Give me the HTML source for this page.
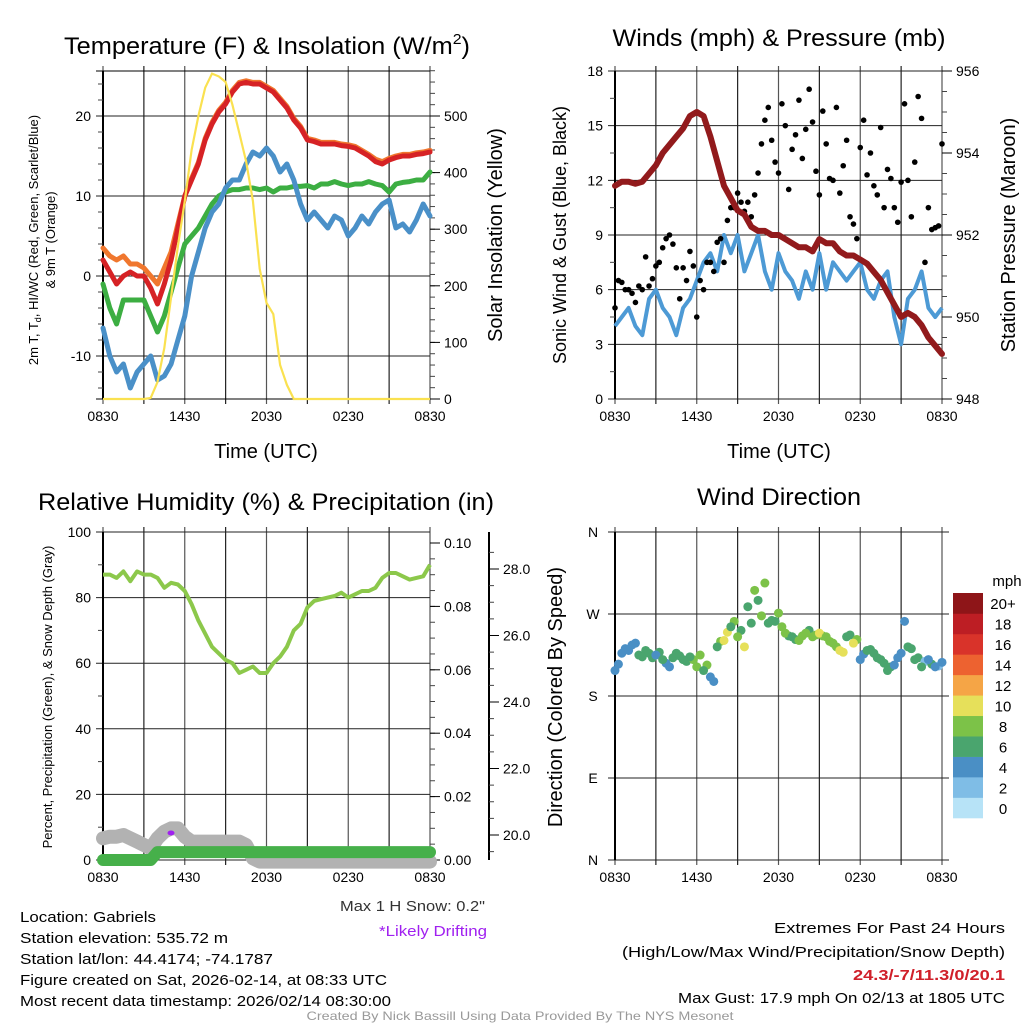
<!DOCTYPE html>
<html><head><meta charset="utf-8">
<style>
html,body{margin:0;padding:0;background:#fff;}
svg{display:block;font-family:"Liberation Sans",sans-serif;}
</style></head>
<body>
<svg id="fig" width="1024" height="1024" viewBox="0 0 1024 1024">
<rect width="1024" height="1024" fill="#fff"/>
<g font-size="24" text-anchor="middle" fill="#000">
<text x="267" y="54" textLength="406" lengthAdjust="spacingAndGlyphs">Temperature (F) &amp; Insolation (W/m<tspan font-size="15" dy="-10">2</tspan><tspan dy="10">)</tspan></text>
<text x="779" y="46" textLength="333" lengthAdjust="spacingAndGlyphs">Winds (mph) &amp; Pressure (mb)</text>
<text x="266" y="510" textLength="456" lengthAdjust="spacingAndGlyphs">Relative Humidity (%) &amp; Precipitation (in)</text>
<text x="779" y="505" textLength="164" lengthAdjust="spacingAndGlyphs">Wind Direction</text>
</g>
<g id="layer"></g>
<g font-size="15" fill="#000">
<text x="20" y="922" textLength="136" lengthAdjust="spacingAndGlyphs">Location: Gabriels</text>
<text x="20" y="943" textLength="208" lengthAdjust="spacingAndGlyphs">Station elevation: 535.72 m</text>
<text x="20" y="964" textLength="253" lengthAdjust="spacingAndGlyphs">Station lat/lon: 44.4174; -74.1787</text>
<text x="20" y="985" textLength="367" lengthAdjust="spacingAndGlyphs">Figure created on Sat, 2026-02-14, at 08:33 UTC</text>
<text x="20" y="1006" textLength="371" lengthAdjust="spacingAndGlyphs">Most recent data timestamp: 2026/02/14 08:30:00</text>
<text x="485" y="911" text-anchor="end" fill="#333" textLength="145" lengthAdjust="spacingAndGlyphs">Max 1 H Snow: 0.2"</text>
<text x="487" y="936" text-anchor="end" fill="#a020f0" textLength="108" lengthAdjust="spacingAndGlyphs">*Likely Drifting</text>
<text x="1005" y="933" text-anchor="end" textLength="231" lengthAdjust="spacingAndGlyphs">Extremes For Past 24 Hours</text>
<text x="1005" y="957" text-anchor="end" textLength="383" lengthAdjust="spacingAndGlyphs">(High/Low/Max Wind/Precipitation/Snow Depth)</text>
<text x="1005" y="980" text-anchor="end" fill="#d0202a" font-weight="bold" textLength="152" lengthAdjust="spacingAndGlyphs">24.3/-7/11.3/0/20.1</text>
<text x="1005" y="1003" text-anchor="end" textLength="327" lengthAdjust="spacingAndGlyphs">Max Gust: 17.9 mph On 02/13 at 1805 UTC</text>
<text x="520" y="1020" text-anchor="middle" fill="#999" font-size="12" textLength="427" lengthAdjust="spacingAndGlyphs">Created By Nick Bassill Using Data Provided By The NYS Mesonet</text>
</g>
</svg>
<script>
// ---------- data (half-hourly from 0830 UTC) ----------
const timeLabels = ["0830","1430","2030","0230","0830"];
const tempRed = [2,0.5,-1,0,0.5,0,0,-1.5,-3.5,-1,2,6,10,12,14,17,19,20.5,21.5,23,24,24.2,24,24,23.5,23,22,21,19.5,18.5,17,16.8,16.5,16.5,16.5,16.3,16.2,16,15.5,15,14.3,14,14.5,14.8,15,15,15.2,15.3,15.5];
const tempOrange = [3.5,2.5,2,2.5,1.5,1.5,1,0,-1,1,3,6.5,10,12.2,14.2,17.2,19.2,20.7,21.7,23.2,24.2,24.4,24.2,24.2,23.7,23.2,22.2,21.2,19.7,18.7,17.2,17,16.7,16.7,16.7,16.5,16.4,16.2,15.7,15.2,14.6,14.3,14.7,15,15.2,15.2,15.4,15.5,15.7];
const tempGreen = [-1,-4,-6,-3,-3,-3,-3,-5,-7,-5,-2,1,4,5,6,7.5,9,10,10.5,10.8,10.8,11,11,10.8,11,10.5,11,11,11.2,11.2,11.3,11,11.5,11.5,11.8,11.5,11.3,11.5,11.5,11.8,11.5,11.3,10.5,11.5,11.7,11.8,12,12,13];
const tempBlue = [-6.5,-10,-12,-11,-14,-12,-11,-10,-13,-12.5,-11,-8,-5,0,3,6,8,9,11,12,12,14,15.5,15,16,15,13,14,12,9,7,8,7,6,7.5,7,5,6,7.5,6.5,8,9,9.5,6,6.5,5.5,7,9,7.5];
const solar = [0,0,0,0,0,0,0,2,30,90,180,270,350,440,500,550,575,570,560,520,470,420,350,230,170,150,60,25,0,0,0,0,0,0,0,0,0,0,0,0,0,0,0,0,0,0,0,0,0];
const windSpeed = [4,4.5,5,4,3.5,5.5,6,5,4.5,3.5,5,5.5,6.5,7.5,8,7,9,8,9,7,8,9,7,6,8,7,6.5,5.5,7,6,8,6,7.5,7,6.5,7,7.5,6,5.5,6.5,7,4.5,3,5.5,6,7,5,4.5,5];
const pressure = [953.2,953.3,953.3,953.25,953.3,953.5,953.7,954.0,954.2,954.4,954.6,954.9,955.0,954.9,954.4,953.8,953.2,952.9,952.6,952.5,952.2,952.1,952.1,952.0,952.0,951.9,951.8,951.7,951.7,951.6,951.9,951.8,951.8,951.6,951.5,951.5,951.4,951.3,951.1,950.9,950.6,950.3,950.0,950.1,950.0,949.8,949.5,949.3,949.1];
const rh = [87,87,86,88,85,88,87,87,86,83,84.5,84,82,78,73,69,65,63,61,60,57,58,59,57,57,60,62,65,70,72,77,79,79.5,80,80.5,81.5,80,81,82,82,83,86,87.5,87.5,86.5,85.5,86,86.5,90];
const snowDepth = [19.9,19.95,19.95,20,19.9,19.8,19.7,19.6,19.9,20.1,20.2,20.2,19.95,19.8,19.8,19.8,19.8,19.8,19.8,19.8,19.8,19.7,19.3,19.2,19.2,19.2,19.2,19.2,19.2,19.2,19.2,19.2,19.2,19.2,19.2,19.2,19.2,19.2,19.2,19.2,19.2,19.2,19.2,19.2,19.2,19.2,19.2,19.2,19.2];
const precip = [0,0,0,0,0,0,0,0,0.0025,0.0025,0.0025,0.0025,0.0025,0.0025,0.0025,0.0025,0.0025,0.0025,0.0025,0.0025,0.0025,0.0025,0.0025,0.0025,0.0025,0.0025,0.0025,0.0025,0.0025,0.0025,0.0025,0.0025,0.0025,0.0025,0.0025,0.0025,0.0025,0.0025,0.0025,0.0025,0.0025,0.0025,0.0025,0.0025,0.0025,0.0025,0.0025,0.0025,0.0025];
// gusts every 15 min
const gusts = [5,6.5,6.4,6,6,5.8,5.3,6.2,6,7.8,6.2,6.6,7.3,7.5,8.3,8.8,9,8.5,7.2,5.5,7.2,6.5,8.1,7.3,4.5,6.5,6,7.5,7.5,7,8.6,8.8,7.5,9.8,10.5,10.5,11.3,10.8,10.3,10.8,10,11.2,12.4,14,15.3,16,14.2,13,12.4,16.2,15,11.5,13.7,14.5,16.4,13.2,14.8,17,15.2,12.5,11.2,15.8,14,12.1,12,16,11.3,12.8,14.2,10,9.6,8.8,13.8,15.3,12.3,13.5,11.7,11.2,14.9,10.5,12.6,12.1,10.5,9.7,11.9,16.2,12,10,13,16.6,15.4,7.5,10.5,9.3,9.4,9.5,14];
// wind direction, half-hourly on the hour-half marks
const dirDeg = [208,227,230,238,223,227,225,220,212,227,220,223,212,208,201,234,241,256,245,234,260,285,304,263,271,249,245,241,249,245,249,245,238,230,245,238,220,230,227,220,208,214,227,234,220,212,220,212,217];
const dirSpeed = [4,4,4,4,6,6,4,6,4,6,6,6,8,6,4,6,10,6,8,10,6,6,8,6,8,8,6,8,8,8,10,8,8,10,6,10,4,6,6,6,6,4,4,6,6,6,4,4,4];
// wind direction, quarter-past offsets
const dirDeg2 = [215,232,236,225,230,222,228,216,222,224,218,220,225,214,196,240,250,262,252,278,296,268,260,262,256,246,242,246,252,247,246,240,234,228,247,242,226,231,222,216,212,222,262,232,222,218,215,213];
const dirSpeed2 = [4,4,4,6,6,6,6,4,6,6,6,8,8,8,4,8,10,8,6,6,8,8,6,6,8,6,6,8,6,8,8,8,8,10,6,8,4,6,6,6,6,4,4,6,6,2,6,2];
const speedBins = ["0","2","4","6","8","10","12","14","16","18","20+"];
const binColors = ["#b7e3f7","#7fbde6","#4a8fc5","#4aa56e","#7cc248","#e6e05a","#f5a546","#ed6230","#d9332a","#bd1e24","#8e1518"];

const NS="http://www.w3.org/2000/svg";
const layer=document.getElementById('layer');
function mk(tag,attrs,parent){const e=document.createElementNS(NS,tag);for(const k in attrs)e.setAttribute(k,attrs[k]);(parent||layer).appendChild(e);return e;}
function txt(x,y,s,size,anchor,parent){const t=mk('text',{x:x,y:y,'font-size':size,'text-anchor':anchor||'middle',fill:'#000'},parent);t.textContent=s;return t;}

function xScale(L){return i=>L+i*0.5*(327/24);}
function linePath(arr,xs,ys){return arr.map((v,i)=>(i?'L':'M')+xs(i).toFixed(1)+','+ys(v).toFixed(1)).join('');}

function frame(L,T,name){
  const g=mk('g',{});
  
  
  const B=T+328;
  for(let k=0;k<=8;k++){const x=L+k*327/8;
    const gl=mk('line',{x1:x,y1:T-5,x2:x,y2:B+5,stroke:k%2?'#222':'#555','stroke-width':1.2},g);
    
    }
  for(let k=0;k<5;k++){const lb=txt(L+k*327/4,B+22,timeLabels[k],14,'middle',g);
    
    }
  return g;
}
function hgrid(g,L,y,label){
  const ln=mk('line',{x1:L-7,y1:y,x2:L+327,y2:y,stroke:'#222','stroke-width':1},g);
  
  
  if(label!==null){const t=txt(L-12,y+5,label,14,'end',g);
    
    }
}
function rightTicks(g,X,vals,ys,minors,fmt,cls){
  for(const v of minors){mk('line',{x1:X,y1:ys(v),x2:X+5,y2:ys(v),stroke:'#444'},g);}
  for(const v of vals){mk('line',{x1:X,y1:ys(v),x2:X+10,y2:ys(v),stroke:'#000'},g);
    const t=txt(X+14,ys(v)+5,fmt(v),14,'start',g);
    
    }
}
function leftMinors(g,L,vals,ys){for(const v of vals)mk('line',{x1:L-5,y1:ys(v),x2:L,y2:ys(v),stroke:'#444'},g);}
function vtitle(x,y,s,size,name,g){const t=mk('text',{x:x,y:y,'font-size':size,'text-anchor':'middle',transform:`rotate(-90 ${x} ${y})`,fill:'#000'},g);t.textContent=s;
  
  return t;}

// ---------- Panel 1: temperature ----------
{const L=103,T=71,xs=xScale(L);
 const yT=v=>276-v*8, yS=v=>399-v*0.566;
 const g=frame(L,T,'temperature-panel');
 [20,10,0,-10].forEach(v=>hgrid(g,L,yT(v),String(v)));
 mk('line',{x1:L-7,y1:T,x2:L+327,y2:T,stroke:'#000'},g);mk('line',{x1:L-7,y1:399,x2:L+327,y2:399,stroke:'#000'},g);
 mk('line',{x1:L,y1:T,x2:L,y2:399,stroke:'#000','stroke-width':2},g);
 const mn=[];for(let v=-14;v<=24;v+=2)if(v%10)mn.push(v);leftMinors(g,L,mn,yT);
 const smn=[];for(let v=0;v<=580;v+=20)smn.push(v);
 rightTicks(g,L+327,[0,100,200,300,400,500],yS,smn,v=>String(v),'solar-tick-label');
 const c=mk('g',{},g);
 const series=[[tempOrange,'#f0772e','temp-9m-line'],[tempRed,'#d62225','temp-2m-line'],[tempGreen,'#3cae42','dewpoint-line'],[tempBlue,'#4a90c8','windchill-line']];
 for(const s of series){const p=mk('path',{d:linePath(s[0],xs,yT),fill:'none',stroke:s[1],'stroke-width':5,'stroke-linejoin':'round','stroke-linecap':'round'},c);
   
   }
 const sp=mk('path',{d:linePath(solar,xs,yS),fill:'none',stroke:'#fae150','stroke-width':2.2},c);
 
 
 vtitle(38,240,'2m T, T',13,'temp-y-title',g).innerHTML='2m T, T<tspan font-size="9" dy="3">d</tspan><tspan dy="-3">, HI/WC (Red, Green, Scarlet/Blue)</tspan>';
 vtitle(55,240,'& 9m T (Orange)',13,'temp-y-title-2',g);
 vtitle(502,235,'Solar Insolation (Yellow)',20,'solar-y-title',g);
 const xt=txt(266,458,'Time (UTC)',20,'middle',g);
 
 
}
// ---------- Panel 2: winds ----------
{const L=615,T=71,xs=xScale(L),xq=i=>L+i*0.25*(327/24);
 const yW=v=>399-v*(328/18), yP=v=>399-(v-948)*41;
 const g=frame(L,T,'winds-panel');
 [18,15,12,9,6,3,0].forEach(v=>hgrid(g,L,yW(v),String(v)));
 mk('line',{x1:L,y1:T,x2:L,y2:399,stroke:'#000','stroke-width':2},g);
 leftMinors(g,L,[1.5,4.5,7.5,10.5,13.5,16.5],yW);
 const pm=[];for(let v=948;v<=956;v+=0.5)pm.push(v);
 rightTicks(g,L+327,[948,950,952,954,956],yP,pm,v=>String(v),'pressure-tick-label');
 const w=mk('path',{d:linePath(windSpeed,xs,yW),fill:'none',stroke:'#4d9ad5','stroke-width':4,'stroke-linejoin':'round'},g);
 
 
 const gg=mk('g',{},g);
 
 
 gusts.forEach((v,i)=>{mk('circle',{cx:xq(i),cy:yW(v),r:2.8,fill:'#000'},gg);});
 const p=mk('path',{d:linePath(pressure,xs,yP),fill:'none',stroke:'#921a1c','stroke-width':6,'stroke-linejoin':'round','stroke-linecap':'round'},g);
 
 
 vtitle(566,235,'Sonic Wind & Gust (Blue, Black)',18,'wind-y-title',g);
 vtitle(1015,235,'Station Pressure (Maroon)',20,'pressure-y-title',g);
 const xt=txt(779,458,'Time (UTC)',20,'middle',g);
 
 
}
// ---------- Panel 3: humidity ----------
{const L=103,T=532,xs=xScale(L);
 const yR=v=>860-v*3.28, yPr=v=>860-v*3170, ySn=v=>835-(v-20)*33.25;
 const g=frame(L,T,'humidity-panel');
 [100,80,60,40,20,0].forEach(v=>hgrid(g,L,yR(v),String(v)));
 mk('line',{x1:L,y1:T,x2:L,y2:860,stroke:'#000','stroke-width':2},g);
 leftMinors(g,L,[10,30,50,70,90],yR);
 const prm=[];for(let v=0;v<=0.1;v+=0.005)prm.push(v);
 rightTicks(g,L+327,[0,0.02,0.04,0.06,0.08,0.1],yPr,prm,v=>v.toFixed(2),'precip-tick-label');
 mk('line',{x1:489,y1:T,x2:489,y2:860,stroke:'#000','stroke-width':2},g);
 const snm=[];for(let v=19.5;v<=28.5;v+=0.5)snm.push(v);
 for(const v of snm)mk('line',{x1:489,y1:ySn(v),x2:494,y2:ySn(v),stroke:'#444'},g);
 for(const v of [20,22,24,26,28]){mk('line',{x1:489,y1:ySn(v),x2:499,y2:ySn(v),stroke:'#000'},g);
   const t=txt(503,ySn(v)+5,v.toFixed(1),14,'start',g);
   
   }
 const c=mk('g',{},g);
 const sn=mk('path',{d:linePath(snowDepth,xs,ySn),fill:'none',stroke:'#b2b2b2','stroke-width':14,'stroke-linejoin':'round','stroke-linecap':'round'},c);
 
 
 const pr=mk('path',{d:linePath(precip,xs,yPr),fill:'none',stroke:'#46b04a','stroke-width':12,'stroke-linejoin':'round','stroke-linecap':'round'},c);
 
 
 const dr=mk('ellipse',{cx:171,cy:833,rx:3.5,ry:2.5,fill:'#a020f0'},c);
 
 
 const r=mk('path',{d:linePath(rh,xs,yR),fill:'none',stroke:'#8cc84b','stroke-width':4,'stroke-linejoin':'round'},c);
 
 
 vtitle(52,697,'Percent, Precipitation (Green), & Snow Depth (Gray)',13,'rh-y-title',g);
}
// ---------- Panel 4: wind direction ----------
{const L=615,T=532,xs=xScale(L),xs2=i=>L+(i+0.5)*0.5*(327/24);
 const yD=d=>860-d*0.911;
 const g=frame(L,T,'wind-direction-panel');
 [[360,'N'],[270,'W'],[180,'S'],[90,'E'],[0,'N']].forEach(a=>{const ln=mk('line',{x1:L-7,y1:yD(a[0]),x2:L+334,y2:yD(a[0]),stroke:'#222'},g);
   
   
   const t=txt(L-22,yD(a[0])+5,a[1],14,'middle',g);
   
   });
 mk('line',{x1:L,y1:T,x2:L,y2:860,stroke:'#000','stroke-width':2},g);
 const pg=mk('g',{},g);
 
 
 dirDeg2.forEach((d,i)=>{const b=Math.min(10,Math.round(dirSpeed2[i]/2));
   mk('circle',{cx:xs2(i),cy:yD(d),r:4.5,fill:binColors[b]},pg);});
 dirDeg.forEach((d,i)=>{const b=Math.min(10,Math.round(dirSpeed[i]/2));
   mk('circle',{cx:xs(i),cy:yD(d),r:4.5,fill:binColors[b]},pg);});
 vtitle(562,697,'Direction (Colored By Speed)',20,'direction-y-title',g);
 const cb=mk('g',{},g);
 
 
 const bh=225/11;
 for(let k=0;k<11;k++){const y=818-(k+1)*bh;
   mk('rect',{x:953,y:y,width:30,height:bh+0.3,fill:binColors[k]},cb);
   const t=txt(1003,y+bh/2+6,speedBins[k],15,'middle',cb);
   
   }
 const u=txt(1007,586,'mph',15,'middle',cb);
 
 
}
</script>
</body></html>
